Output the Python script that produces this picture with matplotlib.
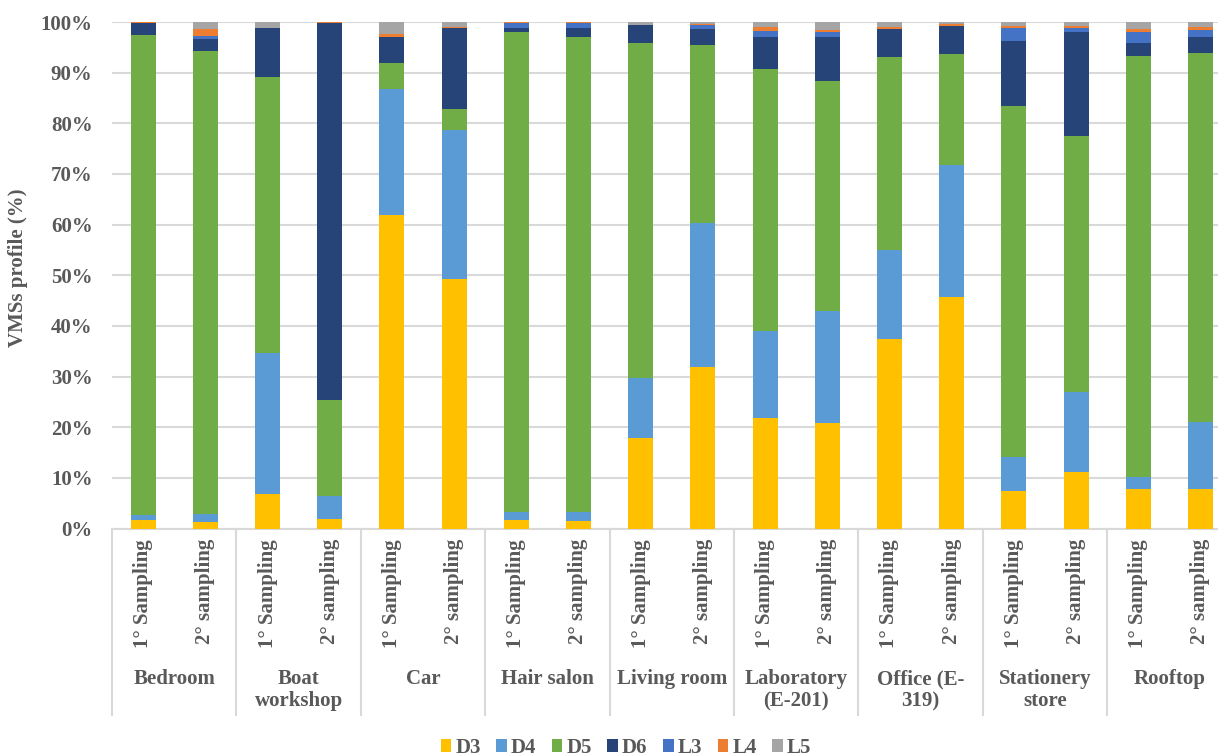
import matplotlib
matplotlib.use("Agg")
import matplotlib.pyplot as plt
import numpy as np
from matplotlib.transforms import blended_transform_factory
from matplotlib.patches import Patch

# Sites and sampling campaigns
groups = ["Bedroom", "Boat\nworkshop", "Car", "Hair salon", "Living room",
          "Laboratory\n(E-201)", "Office (E-\n319)", "Stationery\nstore", "Rooftop"]
samplings = ["1° Sampling", "2° sampling"]

# VMS profile per bar (%), two bars per site
D3 = [1.7, 1.2, 6.8, 1.8, 61.9, 49.3, 1.6, 1.4, 17.9, 31.9, 21.8, 20.8, 37.4, 45.7, 7.4, 11.2, 7.8, 7.8]
D4 = [1.0, 1.7, 27.8, 4.7, 24.9, 29.4, 1.6, 1.8, 11.8, 28.4, 17.2, 22.1, 17.6, 26.1, 6.7, 15.7, 2.4, 13.2]
D5 = [94.7, 91.4, 54.6, 18.9, 5.1, 4.1, 94.8, 93.8, 66.1, 35.2, 51.7, 45.5, 38.0, 21.9, 69.3, 50.6, 83.0, 72.9]
D6 = [2.5, 2.3, 9.6, 74.4, 5.2, 16.0, 0.8, 1.9, 3.7, 3.1, 6.3, 8.7, 5.6, 5.6, 12.9, 20.5, 2.7, 3.1]
L3 = [0.0, 0.7, 0.0, 0.0, 0.0, 0.0, 1.0, 0.9, 0.0, 0.8, 1.2, 0.9, 0.1, 0.0, 2.5, 0.8, 2.1, 1.4]
L4 = [0.1, 1.3, 0.0, 0.2, 0.5, 0.2, 0.2, 0.2, 0.0, 0.2, 0.8, 0.4, 0.3, 0.3, 0.4, 0.4, 0.6, 0.6]
L5 = [0.0, 1.4, 1.2, 0.0, 2.4, 1.0, 0.0, 0.0, 0.5, 0.4, 1.0, 1.6, 1.0, 0.4, 0.8, 0.8, 1.4, 1.0]

series = {"D3": D3, "D4": D4, "D5": D5, "D6": D6, "L3": L3, "L4": L4, "L5": L5}
colors = {"D3": "#FFC000", "D4": "#5B9BD5", "D5": "#70AD47", "D6": "#264478",
          "L3": "#4472C4", "L4": "#ED7D31", "L5": "#A5A5A5"}

TXT = "#595959"
GRID = "#D9D9D9"
FONT = ["Liberation Serif", "DejaVu Serif"]
plt.rcParams["font.family"] = FONT
plt.rcParams["font.weight"] = "bold"

fig = plt.figure(figsize=(12.18, 7.56), dpi=100)
W, H = 1218, 756
left, right, bottom, top = 112, 1231.6, 528.5, 22
ax = fig.add_axes([left / W, 1 - bottom / H, (right - left) / W, (bottom - top) / H])

data = np.array([series[k] for k in series], dtype=float)
data = data / data.sum(axis=0) * 100.0  # 100% stacked
x = np.arange(data.shape[1])
base = np.zeros(data.shape[1])
for name, vals in zip(series, data):
    ax.bar(x, vals, 0.4, bottom=base, color=colors[name], zorder=3, linewidth=0)
    base += vals

ax.set_xlim(-0.5, len(x) - 0.5)
ax.set_ylim(0, 100)
ax.set_yticks(np.arange(0, 101, 10))
ax.set_yticklabels([f"{v}%" for v in range(0, 101, 10)])
ax.tick_params(axis="y", length=0, pad=14, labelsize=15, labelcolor=TXT)
ax.set_xticks([])
ax.yaxis.grid(True, color=GRID, linewidth=1.5, zorder=0)
for s in ["left", "right", "top"]:
    ax.spines[s].set_visible(False)
ax.spines["bottom"].set_color(GRID)
ax.spines["bottom"].set_linewidth(1.5)

trans = blended_transform_factory(ax.transData, ax.transAxes)
px = 1.0 / (bottom - top)  # one pixel in axes fraction

# group separators below the axis
sep_bottom = -(715 - bottom) * px
for g in range(len(groups) + 1):
    xs = g * 2 - 0.5
    ax.plot([xs, xs], [0, sep_bottom], transform=trans, color=GRID,
            linewidth=1.5, clip_on=False)

# sampling labels (rotated)
for i in x:
    ax.text(i, -(539 - bottom) * px, samplings[i % 2], transform=trans,
            rotation=90, ha="center", va="top", fontsize=15,
            color=TXT, fontweight="bold")

# site labels
for g, name in enumerate(groups):
    ax.text(g * 2 + 0.5, -(669 - bottom) * px, name, transform=trans,
            ha="center", va="top", fontsize=15, color=TXT,
            fontweight="bold", linespacing=1.15)

fig.text(18 / W, 1 - 268 / H, "VMSs profile (%)", rotation=90, ha="center",
         va="center", fontsize=15, color=TXT, fontweight="bold")

handles = [Patch(facecolor=colors[k], edgecolor="none", label=k) for k in series]
leg = fig.legend(handles=handles, loc="center", ncol=7,
                 bbox_to_anchor=(626 / W, 1 - 748 / H), frameon=False,
                 fontsize=15, handlelength=0.5, handleheight=0.6,
                 handletextpad=0.2, columnspacing=0.75)
for t in leg.get_texts():
    t.set_color(TXT)
    t.set_fontweight("bold")

fig.savefig("out.png", dpi=100)
